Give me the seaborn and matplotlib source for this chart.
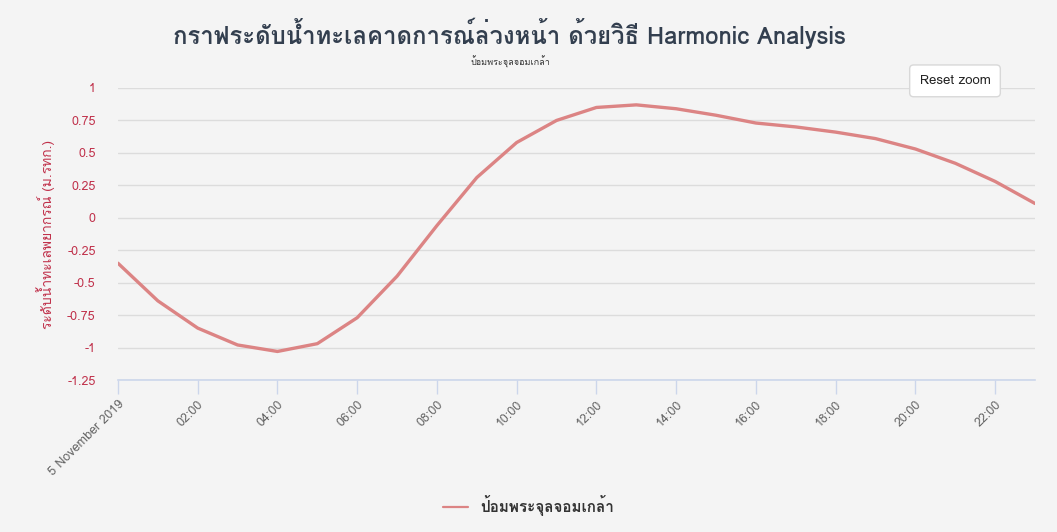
import matplotlib
matplotlib.use("Agg")
import matplotlib.pyplot as plt
import matplotlib.dates as mdates
from matplotlib import font_manager, ft2font
import seaborn as sns
import pandas as pd

# Hourly tide forecast, 5 November 2019
hours = ["00:00", "01:00", "02:00", "03:00", "04:00", "05:00", "06:00", "07:00",
         "08:00", "09:00", "10:00", "11:00", "12:00", "13:00", "14:00", "15:00",
         "16:00", "17:00", "18:00", "19:00", "20:00", "21:00", "22:00", "23:00"]
level = [-0.35, -0.64, -0.85, -0.98, -1.03, -0.97, -0.77, -0.45,
         -0.06, 0.31, 0.58, 0.75, 0.85, 0.87, 0.84, 0.79,
         0.73, 0.70, 0.66, 0.61, 0.53, 0.42, 0.28, 0.11]
station = "ป้อมพระจุลจอมเกล้า"
title = "กราฟระดับน้ำทะเลคาดการณ์ล่วงหน้า ด้วยวิธี Harmonic Analysis"
ylabel = "ระดับน้ำทะเลพยากรณ์ (ม.รทก.)"
yticks = [1, 0.75, 0.5, 0.25, 0, -0.25, -0.5, -0.75, -1, -1.25]

df = pd.DataFrame({
    "time": pd.to_datetime(["2019-11-05 " + h for h in hours]),
    "level": level,
    "station": station,
})

sns.set_theme(style="white")


def thai_families():
    fams = []
    for f in font_manager.fontManager.ttflist:
        try:
            cmap = ft2font.FT2Font(f.fname).get_charmap()
        except Exception:
            continue
        if ord("ก") in cmap and f.name not in fams:
            fams.append(f.name)
    return fams


fams = thai_families() + ["DejaVu Sans"]
plt.rcParams["font.family"] = fams

bg = "#f4f4f4"
fig = plt.figure(figsize=(10.57, 5.32), dpi=100, facecolor=bg)
ax = fig.add_axes([0.1116, 0.2857, 0.8676, 0.5489])
ax.set_facecolor(bg)

sns.lineplot(data=df, x="time", y="level", hue="station", palette=["#dc8484"],
             linewidth=2.4, ax=ax, legend=False)

ax.set_ylim(-1.25, 1)
ax.set_yticks(yticks)
ax.set_yticklabels([f"{v:g}" for v in yticks], color="#c0304a", fontsize=9)
ax.set_xlim(df["time"].iloc[0], df["time"].iloc[-1])
ax.xaxis.set_major_locator(mdates.HourLocator(byhour=range(0, 24, 2)))


def fmt(x, pos):
    d = mdates.num2date(x)
    return "5 November 2019" if d.hour == 0 else d.strftime("%H:%M")


ax.xaxis.set_major_formatter(plt.FuncFormatter(fmt))
plt.setp(ax.get_xticklabels(), rotation=45, ha="right", rotation_mode="anchor",
         color="#666666", fontsize=9)

ax.grid(axis="y", color="#dcdcdc", linewidth=1)
ax.grid(axis="x", visible=False)
for s in ["top", "right", "left"]:
    ax.spines[s].set_visible(False)
ax.spines["bottom"].set_color("#ccd6eb")
ax.spines["bottom"].set_linewidth(1.2)
ax.tick_params(axis="x", which="major", bottom=True, direction="out", length=10,
               color="#ccd6eb", width=1, pad=3)
ax.tick_params(axis="y", length=0, pad=16)

ax.set_xlabel("")
ax.set_ylabel(ylabel, color="#c0304a", fontsize=10, labelpad=9)

fig.text(0.482, 0.938, title, ha="center", va="center", fontsize=17.2,
         fontweight="bold", color="#333f4f")
fig.text(0.483, 0.883, station, ha="center", va="center", fontsize=6.5,
         color="#333333")

fig.text(0.9035, 0.848, "Reset zoom", ha="center", va="center", fontsize=9.5,
         color="#222222",
         bbox=dict(boxstyle="round,pad=0.75,rounding_size=0.3", fc="white",
                   ec="#d8d8d8", lw=1))

handle = plt.Line2D([], [], color="#dc8484", linewidth=1.6)
fig.legend([handle], [station], loc="center", bbox_to_anchor=(0.5, 0.05),
           frameon=False, handlelength=1.6,
           prop=dict(family=fams, weight="bold", size=11),
           labelcolor="#333333")

fig.savefig("out.png", dpi=100, facecolor=bg)
